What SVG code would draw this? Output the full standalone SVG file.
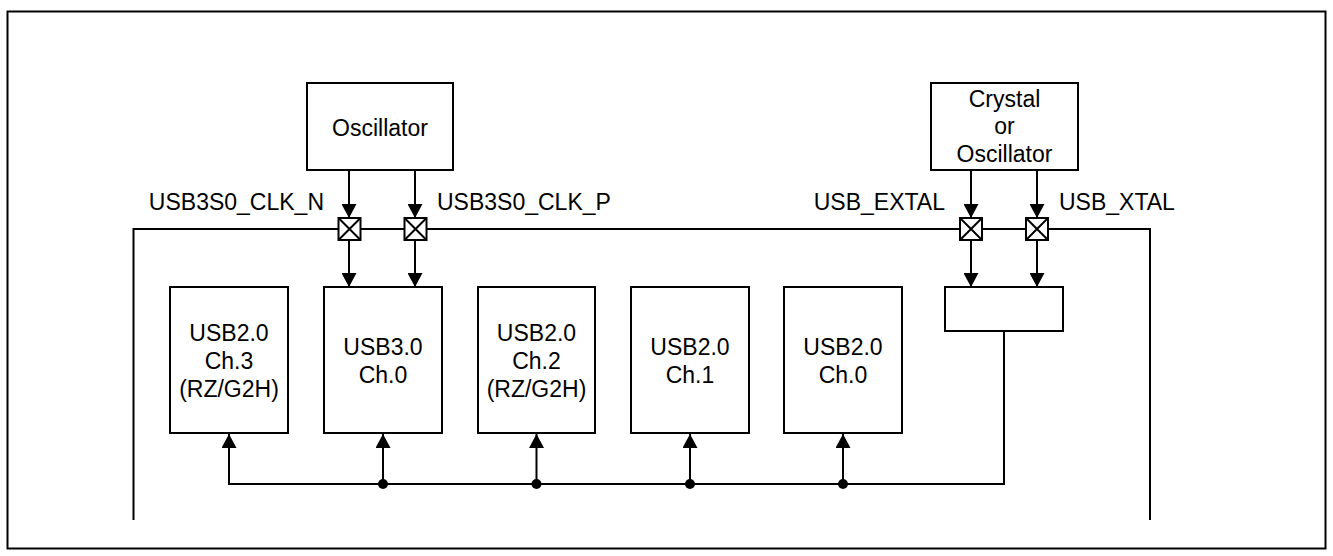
<svg xmlns="http://www.w3.org/2000/svg" width="1333" height="556" viewBox="0 0 1333 556">
<style>
  .box{fill:#fff;stroke:#000;stroke-width:2}
  .ln{fill:none;stroke:#000;stroke-width:2}
  .arr{fill:none;stroke:#000;stroke-width:2;marker-end:url(#ah)}
  text{font-family:"Liberation Sans",Arial,sans-serif;font-size:23px;fill:#000}
  .c{text-anchor:middle}
  .r{text-anchor:end}
</style>
<defs>
  <marker id="ah" viewBox="0 0 14 15" refX="14" refY="7.5" markerWidth="14" markerHeight="15" markerUnits="userSpaceOnUse" orient="auto">
    <path d="M0,0 L14,7.5 L0,15 Z" fill="#000"/>
  </marker>
  <g id="pad">
    <rect x="-11" y="-11" width="22" height="22" fill="#fff" stroke="#000" stroke-width="2"/>
    <path d="M-11,-11 L11,11 M11,-11 L-11,11" stroke="#000" stroke-width="2"/>
  </g>
</defs>
<rect width="1333" height="556" fill="#fff"/>
<rect x="7.5" y="11.5" width="1318" height="537" class="ln"/>

<g id="connectors">
  <path d="M133.5,520 V229 H1150 V520" class="ln"/>
  <path d="M349,170 V218" class="arr"/>
  <path d="M415,170 V218" class="arr"/>
  <path d="M349,240 V287" class="arr"/>
  <path d="M415,240 V287" class="arr"/>
  <path d="M971,170 V218" class="arr"/>
  <path d="M1037,170 V218" class="arr"/>
  <path d="M971,240 V287" class="arr"/>
  <path d="M1037,240 V287" class="arr"/>
  <path d="M1004,331 V484 H229 V434" class="arr"/>
  <path d="M383,484 V434" class="arr"/>
  <path d="M536.5,484 V434" class="arr"/>
  <path d="M690,484 V434" class="arr"/>
  <path d="M843,484 V434" class="arr"/>
  <circle cx="383" cy="484" r="5"/>
  <circle cx="536.5" cy="484" r="5"/>
  <circle cx="690" cy="484" r="5"/>
  <circle cx="843" cy="484" r="5"/>
</g>

<g id="pads">
  <use href="#pad" x="349.5" y="229"/>
  <use href="#pad" x="415.5" y="229"/>
  <use href="#pad" x="971" y="229"/>
  <use href="#pad" x="1037" y="229"/>
</g>

<g id="labels">
  <text x="324" y="210" class="r">USB3S0_CLK_N</text>
  <text x="437" y="210">USB3S0_CLK_P</text>
  <text x="945" y="210" class="r">USB_EXTAL</text>
  <text x="1059" y="210">USB_XTAL</text>
</g>

<g id="oscillator">
  <rect x="307" y="83" width="146" height="87" class="box"/>
  <text x="380" y="136" class="c">Oscillator</text>
</g>

<g id="crystal">
  <rect x="931" y="83" width="147" height="87" class="box"/>
  <text x="1004.5" y="107" class="c">Crystal</text>
  <text x="1004.5" y="134" class="c">or</text>
  <text x="1004.5" y="162" class="c">Oscillator</text>
</g>

<g id="usb20ch3">
  <rect x="170" y="287" width="118" height="146" class="box"/>
  <text x="229" y="341" class="c">USB2.0</text>
  <text x="229" y="369" class="c">Ch.3</text>
  <text x="229" y="397" class="c">(RZ/G2H)</text>
</g>

<g id="usb30ch0">
  <rect x="324" y="287" width="118" height="146" class="box"/>
  <text x="383" y="355" class="c">USB3.0</text>
  <text x="383" y="383" class="c">Ch.0</text>
</g>

<g id="usb20ch2">
  <rect x="478" y="287" width="117" height="146" class="box"/>
  <text x="536.5" y="341" class="c">USB2.0</text>
  <text x="536.5" y="369" class="c">Ch.2</text>
  <text x="536.5" y="397" class="c">(RZ/G2H)</text>
</g>

<g id="usb20ch1">
  <rect x="631" y="287" width="118" height="146" class="box"/>
  <text x="690" y="355" class="c">USB2.0</text>
  <text x="690" y="383" class="c">Ch.1</text>
</g>

<g id="usb20ch0">
  <rect x="784" y="287" width="118" height="146" class="box"/>
  <text x="843" y="355" class="c">USB2.0</text>
  <text x="843" y="383" class="c">Ch.0</text>
</g>

<g id="clockblock">
  <rect x="945" y="287" width="118" height="44" class="box"/>
</g>
</svg>
